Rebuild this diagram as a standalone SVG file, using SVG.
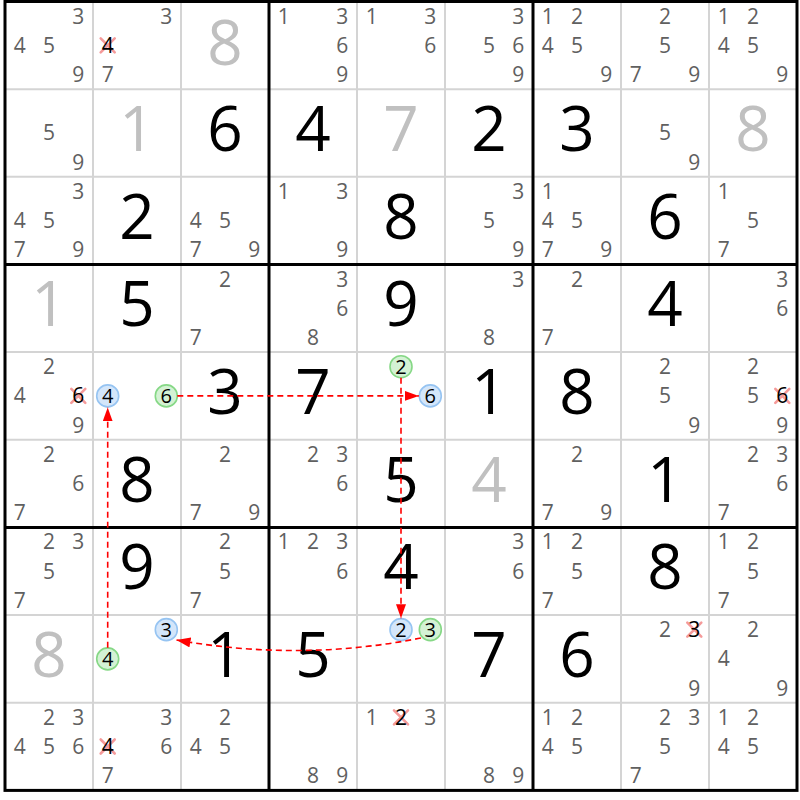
<svg xmlns="http://www.w3.org/2000/svg" width="800" height="800" viewBox="0 0 800 800">
<style>
text{font-family:"Open Sans","DejaVu Sans",sans-serif;text-anchor:middle}
.c{font-size:21px;fill:#606060}
.e{font-size:21px;fill:#000}
.b{font-size:62px;fill:#000}
.g{font-size:62px;fill:#c0c0c0}
.x{stroke:#f59a9a;stroke-width:2.6;stroke-linecap:round}
.hb{fill:#d4e6fa;stroke:#96c4f2;stroke-width:1.6}
.hg{fill:#d4f2d4;stroke:#86d886;stroke-width:1.6}
.cd{font-size:20px;fill:#000}
.thin{stroke:#d4d4d4;stroke-width:2}
.thick{stroke:#000;stroke-width:3}
.lk{fill:none;stroke:#ff0000;stroke-width:1.6;stroke-dasharray:6 4}
</style>
<defs>
<marker id="ah" viewBox="0 0 14 10" refX="14" refY="5" markerWidth="14" markerHeight="10" markerUnits="userSpaceOnUse" orient="auto">
<path d="M0,0 L14,5 L0,10 z" fill="#ff0000"/>
</marker>
</defs>
<rect x="0" y="0" width="800" height="800" fill="#fff"/>
<g id="grid">
<g class="thin">
<line x1="93" y1="1.5" x2="93" y2="790.4"/><line x1="181" y1="1.5" x2="181" y2="790.4"/>
<line x1="357" y1="1.5" x2="357" y2="790.4"/><line x1="445" y1="1.5" x2="445" y2="790.4"/>
<line x1="621" y1="1.5" x2="621" y2="790.4"/><line x1="709" y1="1.5" x2="709" y2="790.4"/>
<line x1="5" y1="89.15" x2="797" y2="89.15"/><line x1="5" y1="176.8" x2="797" y2="176.8"/>
<line x1="5" y1="352.1" x2="797" y2="352.1"/><line x1="5" y1="439.75" x2="797" y2="439.75"/>
<line x1="5" y1="615.05" x2="797" y2="615.05"/><line x1="5" y1="702.7" x2="797" y2="702.7"/>
</g>
<g class="thick">
<line x1="269" y1="1.5" x2="269" y2="790.4"/><line x1="533" y1="1.5" x2="533" y2="790.4"/>
<line x1="5" y1="264.45" x2="797" y2="264.45"/><line x1="5" y1="527.4" x2="797" y2="527.4"/>
<rect x="5" y="1.5" width="792" height="788.9" fill="none"/>
</g>
</g>
<g id="cells">
<!-- row 1 -->
<g id="r1c1" transform="translate(5,1.5)"><text class="c" x="73.3" y="22.1">3</text><text class="c" x="14.7" y="51.3">4</text><text class="c" x="44" y="51.3">5</text><text class="c" x="73.3" y="80.5">9</text></g>
<g id="r1c2" transform="translate(93,1.5)"><text class="c" x="73.3" y="22.1">3</text><path class="x" d="M7.7,36.8 L21.7,50.8 M21.7,36.8 L7.7,50.8"/><text class="e" x="14.7" y="51.3">4</text><text class="c" x="14.7" y="80.5">7</text></g>
<g id="r1c3" transform="translate(181,1.5)"><text class="g" x="44" y="63">8</text></g>
<g id="r1c4" transform="translate(269,1.5)"><text class="c" x="14.7" y="22.1">1</text><text class="c" x="73.3" y="22.1">3</text><text class="c" x="73.3" y="51.3">6</text><text class="c" x="73.3" y="80.5">9</text></g>
<g id="r1c5" transform="translate(357,1.5)"><text class="c" x="14.7" y="22.1">1</text><text class="c" x="73.3" y="22.1">3</text><text class="c" x="73.3" y="51.3">6</text></g>
<g id="r1c6" transform="translate(445,1.5)"><text class="c" x="73.3" y="22.1">3</text><text class="c" x="44" y="51.3">5</text><text class="c" x="73.3" y="51.3">6</text><text class="c" x="73.3" y="80.5">9</text></g>
<g id="r1c7" transform="translate(533,1.5)"><text class="c" x="14.7" y="22.1">1</text><text class="c" x="44" y="22.1">2</text><text class="c" x="14.7" y="51.3">4</text><text class="c" x="44" y="51.3">5</text><text class="c" x="73.3" y="80.5">9</text></g>
<g id="r1c8" transform="translate(621,1.5)"><text class="c" x="44" y="22.1">2</text><text class="c" x="44" y="51.3">5</text><text class="c" x="14.7" y="80.5">7</text><text class="c" x="73.3" y="80.5">9</text></g>
<g id="r1c9" transform="translate(709,1.5)"><text class="c" x="14.7" y="22.1">1</text><text class="c" x="44" y="22.1">2</text><text class="c" x="14.7" y="51.3">4</text><text class="c" x="44" y="51.3">5</text><text class="c" x="73.3" y="80.5">9</text></g>
<!-- row 2 -->
<g id="r2c1" transform="translate(5,89.15)"><text class="c" x="44" y="51.3">5</text><text class="c" x="73.3" y="80.5">9</text></g>
<g id="r2c2" transform="translate(93,89.15)"><text class="g" x="44" y="62">1</text></g>
<g id="r2c3" transform="translate(181,89.15)"><text class="b" x="44" y="62">6</text></g>
<g id="r2c4" transform="translate(269,89.15)"><text class="b" x="44" y="62">4</text></g>
<g id="r2c5" transform="translate(357,89.15)"><text class="g" x="44" y="62">7</text></g>
<g id="r2c6" transform="translate(445,89.15)"><text class="b" x="44" y="62">2</text></g>
<g id="r2c7" transform="translate(533,89.15)"><text class="b" x="44" y="62">3</text></g>
<g id="r2c8" transform="translate(621,89.15)"><text class="c" x="44" y="51.3">5</text><text class="c" x="73.3" y="80.5">9</text></g>
<g id="r2c9" transform="translate(709,89.15)"><text class="g" x="44" y="62">8</text></g>
<!-- row 3 -->
<g id="r3c1" transform="translate(5,176.8)"><text class="c" x="73.3" y="22.1">3</text><text class="c" x="14.7" y="51.3">4</text><text class="c" x="44" y="51.3">5</text><text class="c" x="14.7" y="80.5">7</text><text class="c" x="73.3" y="80.5">9</text></g>
<g id="r3c2" transform="translate(93,176.8)"><text class="b" x="44" y="62">2</text></g>
<g id="r3c3" transform="translate(181,176.8)"><text class="c" x="14.7" y="51.3">4</text><text class="c" x="44" y="51.3">5</text><text class="c" x="14.7" y="80.5">7</text><text class="c" x="73.3" y="80.5">9</text></g>
<g id="r3c4" transform="translate(269,176.8)"><text class="c" x="14.7" y="22.1">1</text><text class="c" x="73.3" y="22.1">3</text><text class="c" x="73.3" y="80.5">9</text></g>
<g id="r3c5" transform="translate(357,176.8)"><text class="b" x="44" y="62">8</text></g>
<g id="r3c6" transform="translate(445,176.8)"><text class="c" x="73.3" y="22.1">3</text><text class="c" x="44" y="51.3">5</text><text class="c" x="73.3" y="80.5">9</text></g>
<g id="r3c7" transform="translate(533,176.8)"><text class="c" x="14.7" y="22.1">1</text><text class="c" x="14.7" y="51.3">4</text><text class="c" x="44" y="51.3">5</text><text class="c" x="14.7" y="80.5">7</text><text class="c" x="73.3" y="80.5">9</text></g>
<g id="r3c8" transform="translate(621,176.8)"><text class="b" x="44" y="62">6</text></g>
<g id="r3c9" transform="translate(709,176.8)"><text class="c" x="14.7" y="22.1">1</text><text class="c" x="44" y="51.3">5</text><text class="c" x="14.7" y="80.5">7</text></g>
<!-- row 4 -->
<g id="r4c1" transform="translate(5,264.45)"><text class="g" x="44" y="62">1</text></g>
<g id="r4c2" transform="translate(93,264.45)"><text class="b" x="44" y="62">5</text></g>
<g id="r4c3" transform="translate(181,264.45)"><text class="c" x="44" y="22.1">2</text><text class="c" x="14.7" y="80.5">7</text></g>
<g id="r4c4" transform="translate(269,264.45)"><text class="c" x="73.3" y="22.1">3</text><text class="c" x="73.3" y="51.3">6</text><text class="c" x="44" y="80.5">8</text></g>
<g id="r4c5" transform="translate(357,264.45)"><text class="b" x="44" y="62">9</text></g>
<g id="r4c6" transform="translate(445,264.45)"><text class="c" x="73.3" y="22.1">3</text><text class="c" x="44" y="80.5">8</text></g>
<g id="r4c7" transform="translate(533,264.45)"><text class="c" x="44" y="22.1">2</text><text class="c" x="14.7" y="80.5">7</text></g>
<g id="r4c8" transform="translate(621,264.45)"><text class="b" x="44" y="62">4</text></g>
<g id="r4c9" transform="translate(709,264.45)"><text class="c" x="73.3" y="22.1">3</text><text class="c" x="73.3" y="51.3">6</text></g>
<!-- row 5 -->
<g id="r5c1" transform="translate(5,352.1)"><text class="c" x="44" y="22.1">2</text><text class="c" x="14.7" y="51.3">4</text><path class="x" d="M66.3,36.8 L80.3,50.8 M80.3,36.8 L66.3,50.8"/><text class="e" x="73.3" y="51.3">6</text><text class="c" x="73.3" y="80.5">9</text></g>
<g id="r5c2" transform="translate(93,352.1)"><circle class="hb" cx="14.7" cy="43.8" r="11"/><text class="cd" x="14.7" y="50.9">4</text><circle class="hg" cx="73.3" cy="43.8" r="11"/><text class="cd" x="73.3" y="50.9">6</text></g>
<g id="r5c3" transform="translate(181,352.1)"><text class="b" x="44" y="62">3</text></g>
<g id="r5c4" transform="translate(269,352.1)"><text class="b" x="44" y="62">7</text></g>
<g id="r5c5" transform="translate(357,352.1)"><circle class="hg" cx="44" cy="14.6" r="11"/><text class="cd" x="44" y="21.7">2</text><circle class="hb" cx="73.3" cy="43.8" r="11"/><text class="cd" x="73.3" y="50.9">6</text></g>
<g id="r5c6" transform="translate(445,352.1)"><text class="b" x="44" y="62">1</text></g>
<g id="r5c7" transform="translate(533,352.1)"><text class="b" x="44" y="62">8</text></g>
<g id="r5c8" transform="translate(621,352.1)"><text class="c" x="44" y="22.1">2</text><text class="c" x="44" y="51.3">5</text><text class="c" x="73.3" y="80.5">9</text></g>
<g id="r5c9" transform="translate(709,352.1)"><text class="c" x="44" y="22.1">2</text><text class="c" x="44" y="51.3">5</text><path class="x" d="M66.3,36.8 L80.3,50.8 M80.3,36.8 L66.3,50.8"/><text class="e" x="73.3" y="51.3">6</text><text class="c" x="73.3" y="80.5">9</text></g>
<!-- row 6 -->
<g id="r6c1" transform="translate(5,439.75)"><text class="c" x="44" y="22.1">2</text><text class="c" x="73.3" y="51.3">6</text><text class="c" x="14.7" y="80.5">7</text></g>
<g id="r6c2" transform="translate(93,439.75)"><text class="b" x="44" y="62">8</text></g>
<g id="r6c3" transform="translate(181,439.75)"><text class="c" x="44" y="22.1">2</text><text class="c" x="14.7" y="80.5">7</text><text class="c" x="73.3" y="80.5">9</text></g>
<g id="r6c4" transform="translate(269,439.75)"><text class="c" x="44" y="22.1">2</text><text class="c" x="73.3" y="22.1">3</text><text class="c" x="73.3" y="51.3">6</text></g>
<g id="r6c5" transform="translate(357,439.75)"><text class="b" x="44" y="62">5</text></g>
<g id="r6c6" transform="translate(445,439.75)"><text class="g" x="44" y="62">4</text></g>
<g id="r6c7" transform="translate(533,439.75)"><text class="c" x="44" y="22.1">2</text><text class="c" x="14.7" y="80.5">7</text><text class="c" x="73.3" y="80.5">9</text></g>
<g id="r6c8" transform="translate(621,439.75)"><text class="b" x="44" y="62">1</text></g>
<g id="r6c9" transform="translate(709,439.75)"><text class="c" x="44" y="22.1">2</text><text class="c" x="73.3" y="22.1">3</text><text class="c" x="73.3" y="51.3">6</text><text class="c" x="14.7" y="80.5">7</text></g>
<!-- row 7 -->
<g id="r7c1" transform="translate(5,527.4)"><text class="c" x="44" y="22.1">2</text><text class="c" x="73.3" y="22.1">3</text><text class="c" x="44" y="51.3">5</text><text class="c" x="14.7" y="80.5">7</text></g>
<g id="r7c2" transform="translate(93,527.4)"><text class="b" x="44" y="62">9</text></g>
<g id="r7c3" transform="translate(181,527.4)"><text class="c" x="44" y="22.1">2</text><text class="c" x="44" y="51.3">5</text><text class="c" x="14.7" y="80.5">7</text></g>
<g id="r7c4" transform="translate(269,527.4)"><text class="c" x="14.7" y="22.1">1</text><text class="c" x="44" y="22.1">2</text><text class="c" x="73.3" y="22.1">3</text><text class="c" x="73.3" y="51.3">6</text></g>
<g id="r7c5" transform="translate(357,527.4)"><text class="b" x="44" y="62">4</text></g>
<g id="r7c6" transform="translate(445,527.4)"><text class="c" x="73.3" y="22.1">3</text><text class="c" x="73.3" y="51.3">6</text></g>
<g id="r7c7" transform="translate(533,527.4)"><text class="c" x="14.7" y="22.1">1</text><text class="c" x="44" y="22.1">2</text><text class="c" x="44" y="51.3">5</text><text class="c" x="14.7" y="80.5">7</text></g>
<g id="r7c8" transform="translate(621,527.4)"><text class="b" x="44" y="62">8</text></g>
<g id="r7c9" transform="translate(709,527.4)"><text class="c" x="14.7" y="22.1">1</text><text class="c" x="44" y="22.1">2</text><text class="c" x="44" y="51.3">5</text><text class="c" x="14.7" y="80.5">7</text></g>
<!-- row 8 -->
<g id="r8c1" transform="translate(5,615.05)"><text class="g" x="44" y="62">8</text></g>
<g id="r8c2" transform="translate(93,615.05)"><circle class="hb" cx="73.3" cy="14.6" r="11"/><text class="cd" x="73.3" y="21.7">3</text><circle class="hg" cx="14.7" cy="43.8" r="11"/><text class="cd" x="14.7" y="50.9">4</text></g>
<g id="r8c3" transform="translate(181,615.05)"><text class="b" x="44" y="62">1</text></g>
<g id="r8c4" transform="translate(269,615.05)"><text class="b" x="44" y="62">5</text></g>
<g id="r8c5" transform="translate(357,615.05)"><circle class="hb" cx="44" cy="14.6" r="11"/><text class="cd" x="44" y="21.7">2</text><circle class="hg" cx="73.3" cy="14.6" r="11"/><text class="cd" x="73.3" y="21.7">3</text></g>
<g id="r8c6" transform="translate(445,615.05)"><text class="b" x="44" y="62">7</text></g>
<g id="r8c7" transform="translate(533,615.05)"><text class="b" x="44" y="62">6</text></g>
<g id="r8c8" transform="translate(621,615.05)"><text class="c" x="44" y="22.1">2</text><path class="x" d="M66.3,7.6 L80.3,21.6 M80.3,7.6 L66.3,21.6"/><text class="e" x="73.3" y="22.1">3</text><text class="c" x="73.3" y="80.5">9</text></g>
<g id="r8c9" transform="translate(709,615.05)"><text class="c" x="44" y="22.1">2</text><text class="c" x="14.7" y="51.3">4</text><text class="c" x="73.3" y="80.5">9</text></g>
<!-- row 9 -->
<g id="r9c1" transform="translate(5,702.7)"><text class="c" x="44" y="22.1">2</text><text class="c" x="73.3" y="22.1">3</text><text class="c" x="14.7" y="51.3">4</text><text class="c" x="44" y="51.3">5</text><text class="c" x="73.3" y="51.3">6</text></g>
<g id="r9c2" transform="translate(93,702.7)"><text class="c" x="73.3" y="22.1">3</text><path class="x" d="M7.7,36.8 L21.7,50.8 M21.7,36.8 L7.7,50.8"/><text class="e" x="14.7" y="51.3">4</text><text class="c" x="73.3" y="51.3">6</text><text class="c" x="14.7" y="80.5">7</text></g>
<g id="r9c3" transform="translate(181,702.7)"><text class="c" x="44" y="22.1">2</text><text class="c" x="14.7" y="51.3">4</text><text class="c" x="44" y="51.3">5</text></g>
<g id="r9c4" transform="translate(269,702.7)"><text class="c" x="44" y="80.5">8</text><text class="c" x="73.3" y="80.5">9</text></g>
<g id="r9c5" transform="translate(357,702.7)"><text class="c" x="14.7" y="22.1">1</text><path class="x" d="M37,7.6 L51,21.6 M51,7.6 L37,21.6"/><text class="e" x="44" y="22.1">2</text><text class="c" x="73.3" y="22.1">3</text></g>
<g id="r9c6" transform="translate(445,702.7)"><text class="c" x="44" y="80.5">8</text><text class="c" x="73.3" y="80.5">9</text></g>
<g id="r9c7" transform="translate(533,702.7)"><text class="c" x="14.7" y="22.1">1</text><text class="c" x="44" y="22.1">2</text><text class="c" x="14.7" y="51.3">4</text><text class="c" x="44" y="51.3">5</text></g>
<g id="r9c8" transform="translate(621,702.7)"><text class="c" x="44" y="22.1">2</text><text class="c" x="73.3" y="22.1">3</text><text class="c" x="44" y="51.3">5</text><text class="c" x="14.7" y="80.5">7</text></g>
<g id="r9c9" transform="translate(709,702.7)"><text class="c" x="14.7" y="22.1">1</text><text class="c" x="44" y="22.1">2</text><text class="c" x="14.7" y="51.3">4</text><text class="c" x="44" y="51.3">5</text></g>
</g>
<g id="connectors">
<line class="lk" x1="107.7" y1="647.8" x2="107.7" y2="407.4" marker-end="url(#ah)"/>
<line class="lk" x1="177.3" y1="395.9" x2="418.8" y2="395.9" marker-end="url(#ah)"/>
<line class="lk" x1="401" y1="377.7" x2="401" y2="618.2" marker-end="url(#ah)"/>
<path class="lk" d="M421,638 Q300,662 176.5,640" marker-end="url(#ah)"/>
</g>
</svg>
